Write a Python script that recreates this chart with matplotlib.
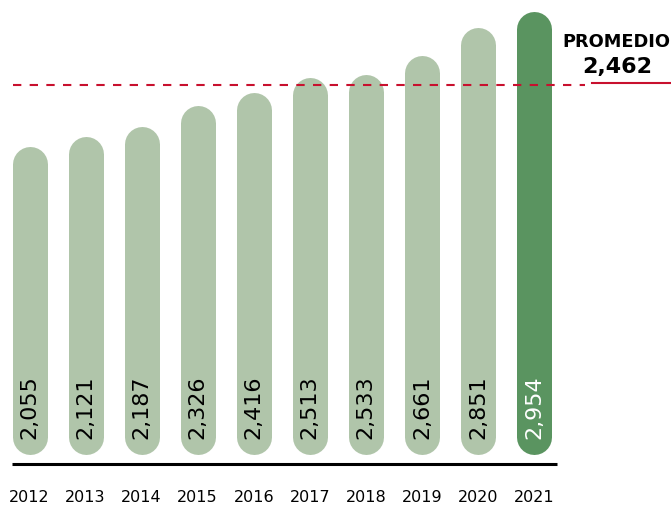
import matplotlib
matplotlib.use("Agg")
import matplotlib.pyplot as plt

years = ["2012", "2013", "2014", "2015", "2016", "2017", "2018", "2019", "2020", "2021"]
values = [2055, 2121, 2187, 2326, 2416, 2513, 2533, 2661, 2851, 2954]
labels = ["2,055", "2,121", "2,187", "2,326", "2,416", "2,513", "2,533", "2,661", "2,851", "2,954"]
promedio = 2462
promedio_label = "2,462"

light = "#b0c5aa"
dark = "#5a9460"
red = "#c8102e"

plt.rcParams['font.family'] = ['DejaVu Sans']

W, H = 671, 508
fig = plt.figure(figsize=(W / 100, H / 100), dpi=100)
ax = fig.add_axes([0, 0, 1, 1])

# pixel geometry -> data
x0_px, dx_px = 29.5, 56.06     # centre of first bar, bar spacing
y0_px, sy = 454.0, 0.1497      # pixel row of value 0, pixels per unit
ax.set_xlim(-x0_px / dx_px, (W - x0_px) / dx_px)
ax.set_ylim((y0_px - H) / sy, y0_px / sy)
ax.axis('off')

px_x = 1 / dx_px   # x units per pixel
px_y = 1 / sy      # y units per pixel
bar_px = 35
r = bar_px / 2 * px_y

# bars: thick lines with round caps
for i, (v, lab) in enumerate(zip(values, labels)):
    last = i == len(values) - 1
    c = dark if last else light
    ax.plot([i, i], [r, v - r], color=c, lw=bar_px * 0.72,
            solid_capstyle='round', zorder=1)
    ax.text(i, 15 * px_y, lab, rotation=90, ha='center', va='bottom',
            fontsize=16, color='white' if last else 'black', zorder=3)
    ax.text(i, -44 * px_y, years[i], ha='center', va='center', fontsize=11.5,
            color='black')

# baseline
ax.plot([(12 - x0_px) * px_x, (557 - x0_px) * px_x], [-10 * px_y, -10 * px_y],
        color='black', lw=2.2, solid_capstyle='butt')

# average line
ax.plot([(13 - x0_px) * px_x, (585 - x0_px) * px_x], [promedio, promedio],
        color=red, lw=1.5, dashes=(4, 4), zorder=2)
ax.plot([(592 - x0_px) * px_x, (670 - x0_px) * px_x],
        [promedio + 2 * px_y, promedio + 2 * px_y], color=red, lw=1.5)
ax.text((616 - x0_px) * px_x, (y0_px - 42) * px_y, "PROMEDIO", ha='center',
        va='center', fontsize=12.8, fontweight='bold')
ax.text((617 - x0_px) * px_x, (y0_px - 67) * px_y, promedio_label, ha='center',
        va='center', fontsize=16, fontweight='bold')

fig.savefig("out.png", dpi=100)
